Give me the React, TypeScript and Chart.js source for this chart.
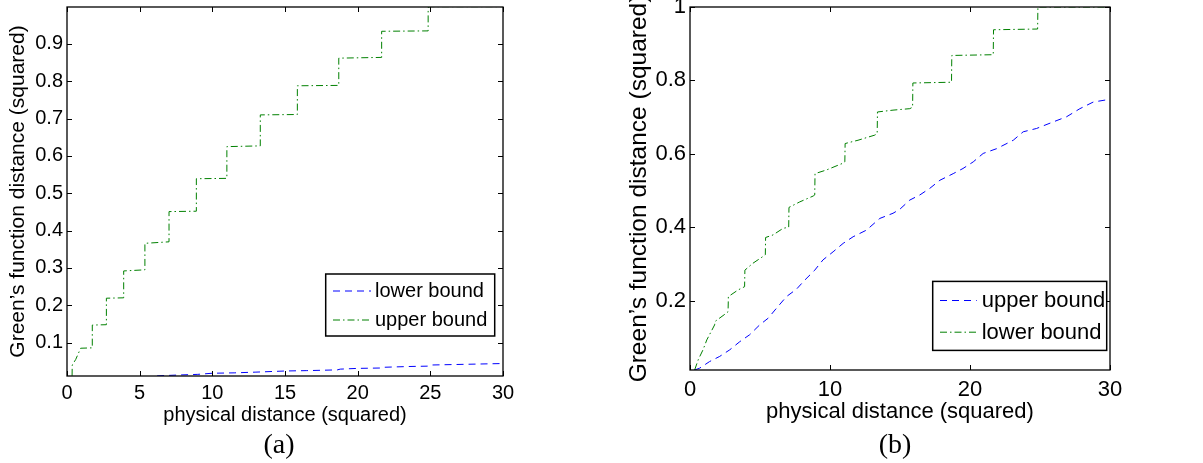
import React, { useEffect, useRef } from "react";
import { Chart, registerables } from "chart.js";

Chart.register(...registerables);

// ---------- DATA ----------
// Panel (a)
const aLowerX = [6.2, 7.5, 9.0, 10.0, 11.5, 13.0, 15.0, 16.5, 18.6, 18.8, 20.0, 21.6, 21.8, 23.5, 24.8, 25.0, 27.5, 30.0];
const aLowerY = [0.011, 0.013, 0.015, 0.018, 0.019, 0.021, 0.024, 0.025, 0.027, 0.029, 0.031, 0.032, 0.034, 0.036, 0.037, 0.04, 0.042, 0.044];
const aUpperX = [0.35, 0.36, 0.6, 0.94, 1.74, 1.74, 2.71, 2.71, 3.9, 3.9, 5.36, 5.36, 7.02, 7.02, 8.9, 8.9, 11.0, 11.0, 13.3, 13.3, 15.85, 15.85, 18.7, 18.7, 21.65, 21.65, 24.85, 24.85, 25.0, 30.0];
const aUpperY = [0.011, 0.04, 0.055, 0.085, 0.086, 0.147, 0.148, 0.219, 0.22, 0.292, 0.295, 0.366, 0.37, 0.451, 0.452, 0.539, 0.54, 0.625, 0.627, 0.71, 0.711, 0.788, 0.789, 0.862, 0.864, 0.934, 0.935, 0.998, 1.0, 1.0];
const aXTicks = [0, 5, 10, 15, 20, 25, 30];
const aYTicks = [0.1, 0.2, 0.3, 0.4, 0.5, 0.6, 0.7, 0.8, 0.9];
const aLabels = ["lower bound", "upper bound"];

// Panel (b)
const bUpperX = [0.33, 0.69, 1.4, 2.12, 2.84, 3.55, 4.26, 4.98, 5.58, 6.17, 6.89, 7.6, 8.2, 8.91, 9.5, 10.22, 10.94, 11.65, 12.6, 13.56, 14.5, 14.99, 15.7, 16.42, 17.13, 17.85, 18.8, 19.5, 20.23, 20.94, 21.9, 23.09, 23.8, 24.75, 25.95, 26.9, 27.85, 28.8, 29.9];
const bUpperY = [0.011, 0.016, 0.034, 0.048, 0.066, 0.088, 0.107, 0.134, 0.152, 0.179, 0.211, 0.231, 0.256, 0.283, 0.311, 0.333, 0.356, 0.374, 0.392, 0.424, 0.438, 0.449, 0.474, 0.488, 0.506, 0.528, 0.546, 0.56, 0.578, 0.601, 0.614, 0.637, 0.66, 0.669, 0.687, 0.701, 0.723, 0.741, 0.748];
const bLowerX = [0.33, 0.6, 0.93, 1.2, 1.76, 1.78, 2.6, 2.72, 2.74, 3.43, 3.9, 3.92, 4.5, 5.2, 5.38, 5.4, 5.93, 6.65, 7.05, 7.07, 7.84, 8.8, 8.91, 8.93, 9.75, 10.9, 11.06, 11.08, 12.0, 13.2, 13.37, 13.39, 14.5, 15.7, 15.9, 15.92, 18.68, 18.7, 21.66, 21.68, 24.83, 24.85, 30.0];
const bLowerY = [0.011, 0.04, 0.066, 0.093, 0.134, 0.143, 0.166, 0.17, 0.211, 0.229, 0.238, 0.283, 0.302, 0.32, 0.325, 0.372, 0.379, 0.397, 0.4, 0.454, 0.469, 0.485, 0.488, 0.546, 0.556, 0.574, 0.578, 0.628, 0.637, 0.651, 0.655, 0.714, 0.719, 0.723, 0.727, 0.793, 0.795, 0.868, 0.87, 0.938, 0.94, 1.0, 1.0];
const bXTicks = [0, 10, 20, 30];
const bYTicks = [0.2, 0.4, 0.6, 0.8, 1];
const bLabels = ["upper bound", "lower bound"];

const xTitle = "physical distance (squared)";
const yTitle = "Green’s function distance (squared)";

// ---------- STYLE ----------
const SANS = "'Liberation Sans', Arial, Helvetica, sans-serif";
const BLUE = "#0000ff";
const GREEN = "#008000";
const DASH = [7, 5];
const DASHDOT = [7, 3, 1.5, 3];

const zip = (xs: number[], ys: number[]) => xs.map((x, i) => ({ x, y: ys[i] }));

const framePlugin = {
  id: "frame",
  afterDatasetsDraw(chart: any, _args: any, opts: any) {
    const { ctx, chartArea: a, scales } = chart;
    ctx.save();
    ctx.setLineDash([]);
    ctx.strokeStyle = "#000";
    ctx.lineWidth = 1;
    const tl = opts.tickLength;
    ctx.beginPath();
    scales.x.ticks.forEach((t: any) => {
      const px = Math.round(scales.x.getPixelForValue(t.value)) + 0.5;
      ctx.moveTo(px, a.bottom);
      ctx.lineTo(px, a.bottom - tl);
      ctx.moveTo(px, a.top);
      ctx.lineTo(px, a.top + tl);
    });
    scales.y.ticks.forEach((t: any) => {
      const py = Math.round(scales.y.getPixelForValue(t.value)) + 0.5;
      ctx.moveTo(a.left, py);
      ctx.lineTo(a.left + tl, py);
      ctx.moveTo(a.right, py);
      ctx.lineTo(a.right - tl, py);
    });
    ctx.stroke();
    ctx.lineWidth = 1.3;
    ctx.strokeRect(a.left, a.top, a.right - a.left, a.bottom - a.top);

    // legend box
    const L = opts.legend;
    const bx = a.right - L.right - L.width;
    const by = a.bottom - L.bottom - L.height;
    ctx.fillStyle = "#fff";
    ctx.fillRect(bx, by, L.width, L.height);
    ctx.lineWidth = 1.5;
    ctx.strokeStyle = "#000";
    ctx.strokeRect(bx, by, L.width, L.height);
    ctx.font = `${L.fontSize}px ${SANS}`;
    ctx.textBaseline = "middle";
    ctx.textAlign = "left";
    chart.data.datasets.forEach((ds: any, i: number) => {
      const ry = by + L.rowTop + i * L.rowGap;
      ctx.beginPath();
      ctx.strokeStyle = ds.borderColor;
      ctx.lineWidth = 1;
      ctx.setLineDash(ds.borderDash || []);
      ctx.moveTo(bx + L.sampleStart, ry + 0.5);
      ctx.lineTo(bx + L.sampleEnd, ry + 0.5);
      ctx.stroke();
      ctx.setLineDash([]);
      ctx.fillStyle = "#000";
      ctx.fillText(ds.label, bx + L.textStart, ry + 1);
    });
    ctx.restore();
  },
};

function makeConfig(p: any) {
  return {
    type: "line",
    data: {
      datasets: [
        {
          label: p.labels[0],
          data: zip(p.blueX, p.blueY),
          borderColor: BLUE,
          borderDash: DASH,
          borderWidth: 1,
          pointRadius: 0,
          tension: 0,
          fill: false,
        },
        {
          label: p.labels[1],
          data: zip(p.greenX, p.greenY),
          borderColor: GREEN,
          borderDash: DASHDOT,
          borderWidth: 1,
          pointRadius: 0,
          tension: 0,
          fill: false,
        },
      ],
    },
    options: {
      animation: false,
      responsive: false,
      events: [],
      layout: { padding: { left: 0, top: p.padTop, right: p.padRight, bottom: 0 } },
      plugins: {
        legend: { display: false },
        tooltip: { enabled: false },
        frame: { tickLength: 5, legend: p.legend },
      },
      scales: {
        x: {
          type: "linear",
          min: 0,
          max: 30,
          afterBuildTicks: (s: any) => {
            s.ticks = p.xTicks.map((v: number) => ({ value: v }));
          },
          afterFit: (s: any) => {
            s.height = p.xHeight;
            s.paddingLeft = 0;
            s.paddingRight = 0;
          },
          grid: { display: false, drawTicks: false },
          border: { display: false },
          ticks: {
            autoSkip: false,
            maxRotation: 0,
            padding: p.xTickPad,
            color: "#000",
            font: { family: SANS, size: p.tickSize },
            callback: (v: any) => String(v),
          },
          title: {
            display: true,
            text: xTitle,
            color: "#000",
            font: { family: SANS, size: p.xTitleSize },
            padding: { top: 0, bottom: p.xTitlePad },
          },
        },
        y: {
          type: "linear",
          min: p.yMin,
          max: p.yMax,
          afterBuildTicks: (s: any) => {
            s.ticks = p.yTicks.map((v: number) => ({ value: v }));
          },
          afterFit: (s: any) => {
            s.width = p.yWidth;
            s.paddingTop = 0;
            s.paddingBottom = 0;
          },
          grid: { display: false, drawTicks: false },
          border: { display: false },
          ticks: {
            autoSkip: false,
            padding: 4,
            color: "#000",
            font: { family: SANS, size: p.tickSize },
            callback: (v: any) => String(v),
          },
          title: {
            display: true,
            text: yTitle,
            color: "#000",
            font: { family: SANS, size: p.yTitleSize },
            padding: { top: p.yTitlePad, bottom: 0 },
          },
        },
      },
    },
    plugins: [framePlugin],
  };
}

const panelA = {
  labels: aLabels,
  blueX: aLowerX,
  blueY: aLowerY,
  greenX: aUpperX,
  greenY: aUpperY,
  xTicks: aXTicks,
  yTicks: aYTicks,
  yMin: 0.0106,
  yMax: 0.999,
  padTop: 7,
  padRight: 57,
  xHeight: 87,
  yWidth: 67,
  tickSize: 20,
  xTickPad: 5,
  xTitleSize: 20,
  xTitlePad: 36,
  yTitleSize: 21,
  yTitlePad: 5.5,
  legend: { width: 169, height: 62, right: 8.3, bottom: 40, rowTop: 16.5, rowGap: 29, sampleStart: 7.3, sampleEnd: 45.3, textStart: 49.3, fontSize: 20 },
};

const panelB = {
  labels: bLabels,
  blueX: bUpperX,
  blueY: bUpperY,
  greenX: bLowerX,
  greenY: bLowerY,
  xTicks: bXTicks,
  yTicks: bYTicks,
  yMin: 0.011,
  yMax: 1,
  padTop: 7,
  padRight: 93,
  xHeight: 93,
  yWidth: 70,
  tickSize: 22,
  xTickPad: 6.4,
  xTitleSize: 22,
  xTitlePad: 37.5,
  yTitleSize: 24.5,
  yTitlePad: 4.5,
  legend: { width: 174, height: 69, right: 3.3, bottom: 19.6, rowTop: 18.6, rowGap: 31.7, sampleStart: 7.3, sampleEnd: 44, textStart: 49, fontSize: 22 },
};

function Panel({ params, left, width }: { params: any; left: number; width: number }) {
  const ref = useRef<HTMLCanvasElement | null>(null);
  useEffect(() => {
    if (!ref.current) return;
    const chart = new Chart(ref.current, makeConfig(params) as any);
    return () => chart.destroy();
  }, [params]);
  return (
    <canvas
      ref={ref}
      width={width}
      height={463}
      style={{ position: "absolute", left, top: 0, width, height: 463 }}
    />
  );
}

const captionStyle = (cx: number): React.CSSProperties => ({
  position: "absolute",
  left: cx - 50,
  width: 100,
  top: 429.5,
  textAlign: "center",
  fontFamily: "'Liberation Serif', 'Times New Roman', serif",
  fontSize: 28,
  lineHeight: "28px",
  color: "#000",
});

export default function App() {
  return (
    <div style={{ position: "absolute", left: 0, top: 0, width: 1203, height: 463, background: "#fff", overflow: "hidden" }}>
      <Panel params={panelA} left={0} width={560} />
      <Panel params={panelB} left={620} width={583} />
      <div style={captionStyle(279)}>(a)</div>
      <div style={captionStyle(895)}>(b)</div>
    </div>
  );
}
